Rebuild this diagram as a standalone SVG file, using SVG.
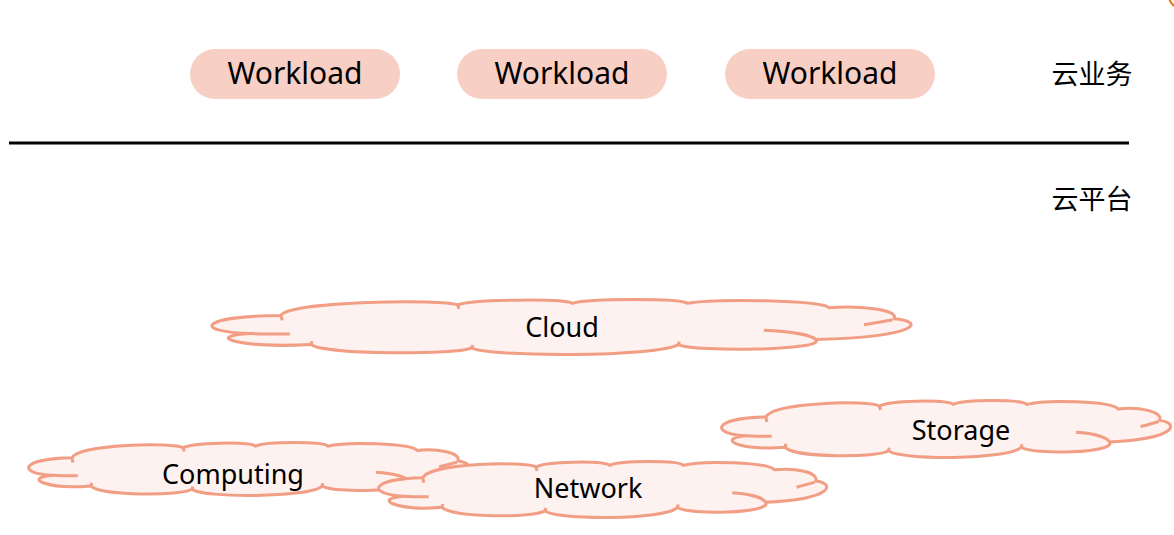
<svg xmlns="http://www.w3.org/2000/svg" xmlns:xlink="http://www.w3.org/1999/xlink" width="1174" height="535" viewBox="0 0 1174 535">
<style>
.pill{fill:#F8CFC4;stroke:none}
.lbl{font-family:"Noto Sans","Open Sans","Liberation Sans",sans-serif;fill:#000;text-anchor:middle;dominant-baseline:central}
.wl{font-size:30px}
.cl{font-size:27px}
.zh{font-family:"Noto Sans CJK SC","Noto Sans",sans-serif;font-size:27px;fill:#000;text-anchor:middle;dominant-baseline:central}
.co{fill:#FDF2EF;stroke:#F29E84;stroke-width:3;stroke-linejoin:round;vector-effect:non-scaling-stroke}
.ci{fill:none;stroke:#F29E84;stroke-width:3;stroke-linecap:butt;vector-effect:non-scaling-stroke}
</style>
<defs>
<path id="cloudOuter" vector-effect="non-scaling-stroke" d="M 96 28 C 110 2 330 -2 350 9 C 370 -1 500 -3 515 6 C 540 -3 670 -3 680 6 C 720 -3 870 0 884 14 C 930 10 985 18 977 34 C 1020 38 1020 66 865 72 C 880 92 690 95 667 81 C 640 104 390 104 370 87 C 350 100 160 100 139 81 C 40 88 -20 66 53 61 C -30 58 -25 30 96 28 Z"/>
<path id="cloudInner" vector-effect="non-scaling-stroke" d="M 53 61 C 70 62 90 62 109 62 M 790 55 C 830 57 858 64 865 72 M 934 45 C 950 42 962 39 975 36 M 96 28 L 98 37 M 350 9 L 352 16 M 139 81 L 141 75 M 370 87 L 372 82 M 667 81 L 669 76"/>
</defs>
<g id="topRightFragment"><path d="M 1169 -1 Q 1171 3 1174 6" fill="none" stroke="#E8730C" stroke-width="2"/></g>
<g id="workload1"><rect class="pill" x="190" y="49" width="210" height="50" rx="25"/><text class="lbl wl" x="295" y="72">Workload</text></g>
<g id="workload2"><rect class="pill" x="457" y="49" width="210" height="50" rx="25"/><text class="lbl wl" x="562" y="72">Workload</text></g>
<g id="workload3"><rect class="pill" x="725" y="49" width="210" height="50" rx="25"/><text class="lbl wl" x="830" y="72">Workload</text></g>
<g id="labelBusiness"><text class="zh" x="1092" y="72">云业务</text></g>
<g id="divider"><line x1="9" y1="143" x2="1129" y2="143" stroke="#000" stroke-width="3"/></g>
<g id="labelPlatform"><text class="zh" x="1092" y="197">云平台</text></g>
<g id="cloud">
<g transform="translate(214,300) scale(0.696,0.55)"><use xlink:href="#cloudOuter" class="co"/><use xlink:href="#cloudInner" class="ci"/></g>
<text class="lbl cl" x="562" y="326">Cloud</text></g>
<g id="computing">
<g transform="translate(30,443) scale(0.438,0.53)"><use xlink:href="#cloudOuter" class="co"/><use xlink:href="#cloudInner" class="ci"/></g>
<text class="lbl cl" x="233" y="473">Computing</text></g>
<g id="network">
<g transform="translate(380,462) scale(0.446,0.56)"><use xlink:href="#cloudOuter" class="co"/><use xlink:href="#cloudInner" class="ci"/></g>
<text class="lbl cl" x="588" y="487">Network</text></g>
<g id="storage">
<g transform="translate(723,401) scale(0.447,0.57)"><use xlink:href="#cloudOuter" class="co"/><use xlink:href="#cloudInner" class="ci"/></g>
<text class="lbl cl" x="961" y="429">Storage</text></g>
</svg>
